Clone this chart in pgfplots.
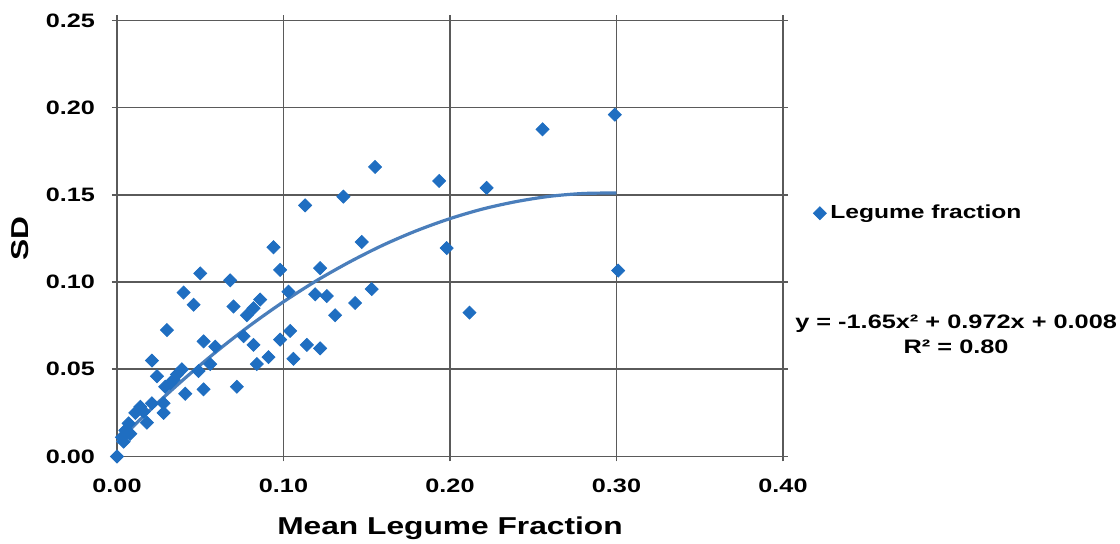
\documentclass[border=0pt]{standalone}
\usepackage{fontspec}
\setmainfont{Liberation Sans}[FakeStretch=1.3]
\usepackage{pgfplots}
\pgfplotsset{compat=1.18}
\definecolor{ptblue}{HTML}{1F6EC1}
\definecolor{fitblue}{HTML}{4A7EBB}
\definecolor{gridgray}{HTML}{5A5A5A}

\begin{document}
\begin{tikzpicture}[x=1pt,y=1pt]
\path[use as bounding box] (-58.5,-43.75) rectangle (501.5,228.25);
\begin{axis}[
  at={(0,0)}, anchor=south west,
  scale only axis,
  width=333pt, height=218pt,
  xmin=0, xmax=0.4, ymin=0, ymax=0.25,
  xtick={0,0.1,0.2,0.3,0.4},
  ytick={0,0.05,0.1,0.15,0.2,0.25},
  /pgf/number format/assume math mode=true,
  /pgf/number format/fixed, /pgf/number format/fixed zerofill,
  /pgf/number format/precision=2,
  scaled ticks=false,
  tick label style={font=\fontsize{9.7}{11}\selectfont\bfseries},
  tick align=outside, major tick length=2.5pt,
  tick style={gridgray, line width=0.8pt},
  axis line style={gridgray, line width=0.9pt},
  grid=major,
  grid style={gridgray, line width=0.8pt},
  xticklabel style={yshift=-5pt},
  yticklabel style={xshift=-5pt},
  xlabel={Mean Legume Fraction},
  ylabel={SD},
  label style={font=\fontsize{12.2}{14}\selectfont\bfseries},
  xlabel style={at={(axis description cs:0.5,-0.164)}, anchor=center},
  ylabel style={at={(axis description cs:-0.1456,0.5)}, anchor=center},
  legend style={at={(rel axis cs:1.045,0.558)}, anchor=west, draw=none, fill=none,
    font=\fontsize{9.45}{11}\selectfont\bfseries, inner sep=0pt},
  legend cell align=left,
  clip=false,
]
\addplot[fitblue, line width=1.6pt, smooth, forget plot] coordinates {
  (0.00,0.0080) (0.02,0.0268) (0.04,0.0442) (0.06,0.0604) (0.08,0.0752)
  (0.10,0.0887) (0.12,0.1009) (0.14,0.1117) (0.16,0.1213) (0.18,0.1295)
  (0.20,0.1364) (0.22,0.1420) (0.24,0.1462) (0.26,0.1492) (0.28,0.1508)
  (0.30,0.1511)
};
\addplot[only marks, mark=square*, mark size=2.3pt,
  mark options={rotate=45, fill=ptblue, draw=ptblue}] coordinates {
  (0.000,0.000) (0.003,0.011) (0.004,0.0085) (0.005,0.015) (0.007,0.019)
  (0.008,0.013) (0.011,0.025) (0.014,0.0285) (0.016,0.0257) (0.018,0.0194)
  (0.021,0.0305) (0.021,0.055) (0.024,0.046) (0.028,0.0305) (0.028,0.025)
  (0.029,0.040) (0.030,0.0725) (0.032,0.042) (0.034,0.044) (0.036,0.047)
  (0.039,0.050) (0.040,0.094) (0.041,0.036) (0.046,0.087) (0.049,0.049)
  (0.050,0.105) (0.052,0.066) (0.052,0.0385) (0.056,0.053) (0.059,0.063)
  (0.068,0.101) (0.070,0.086) (0.072,0.040) (0.076,0.069) (0.078,0.081)
  (0.082,0.085) (0.082,0.064) (0.084,0.053) (0.086,0.090) (0.091,0.057)
  (0.094,0.120) (0.098,0.107) (0.098,0.067) (0.103,0.0945) (0.104,0.072)
  (0.106,0.056) (0.113,0.144) (0.114,0.064) (0.119,0.093) (0.122,0.108)
  (0.122,0.062) (0.126,0.092) (0.131,0.081) (0.136,0.149) (0.143,0.088)
  (0.147,0.123) (0.153,0.096) (0.155,0.166) (0.1935,0.158) (0.198,0.1195)
  (0.2117,0.0825) (0.222,0.154) (0.2556,0.1876) (0.299,0.196) (0.301,0.1066)
};
\addlegendentry{Legume fraction}
\node[font=\fontsize{9.74}{12.5}\selectfont\bfseries, align=center, anchor=center]
  at (rel axis cs:1.26,0.28) {y = -1.65x² + 0.972x + 0.008\\R² = 0.80};
\end{axis}
\end{tikzpicture}
\end{document}
